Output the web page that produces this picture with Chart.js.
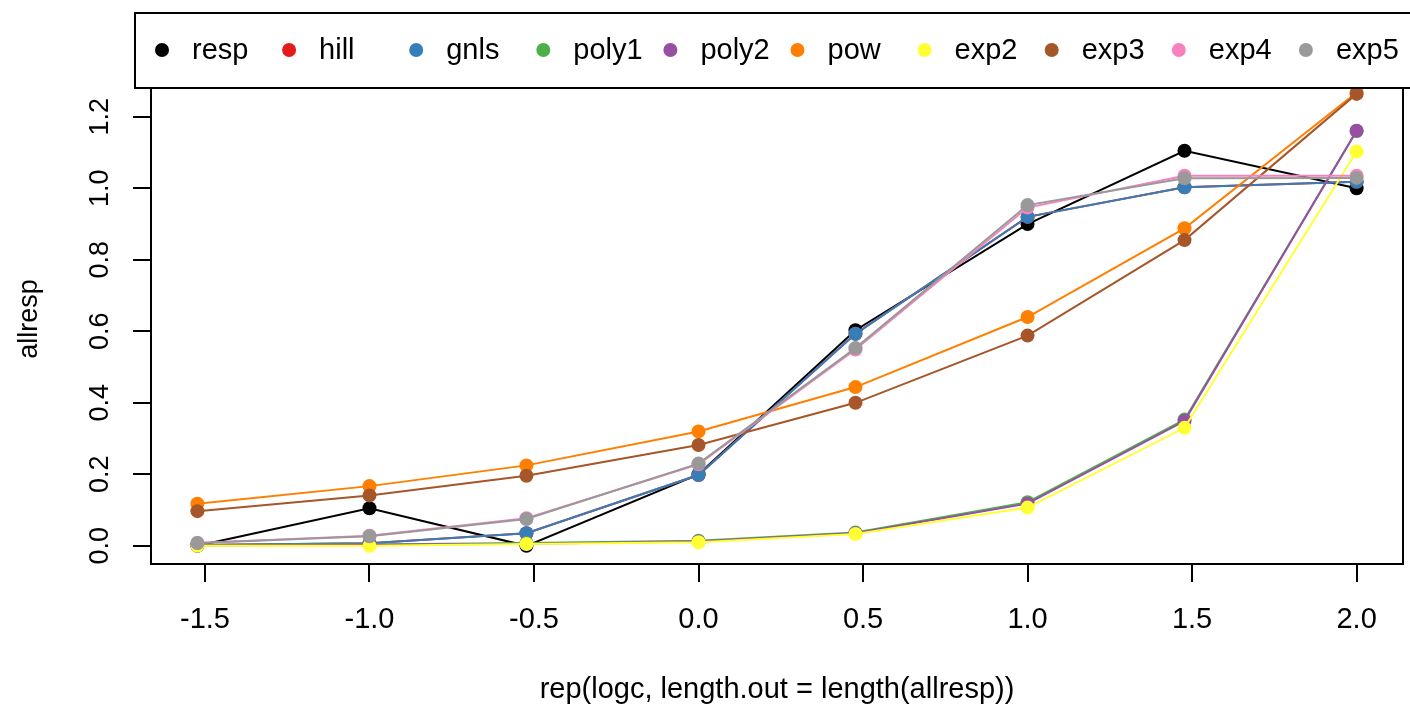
<!DOCTYPE html>
<html>
<head>
<meta charset="utf-8">
<script src="https://cdn.jsdelivr.net/npm/chart.js@4"></script>
<style>
  html, body { margin: 0; padding: 0; background: #fff; }
  #wrap { width: 1410px; height: 711px; position: relative; }
</style>
</head>
<body>
<div id="wrap"><canvas id="chart"></canvas></div>
<script>
// log10 concentrations and responses
const logc   = [-1.523, -1, -0.523, 0, 0.477, 1, 1.477, 2];
const resp   = [0, 0.105, 0, 0.2, 0.603, 0.9, 1.105, 1.0];
const gnls   = [0.002, 0.007, 0.035, 0.198, 0.593, 0.92, 1.003, 1.018];
const hill   = [0.002, 0.007, 0.035, 0.198, 0.593, 0.92, 1.003, 1.018];
const poly1  = [0.002, 0.004, 0.008, 0.014, 0.037, 0.122, 0.353, 1.16];
const poly2  = [0.001, 0.003, 0.006, 0.012, 0.035, 0.118, 0.349, 1.161];
const pow    = [0.118, 0.167, 0.225, 0.32, 0.444, 0.64, 0.888, 1.268];
const exp2   = [0, 0, 0.005, 0.01, 0.033, 0.107, 0.33, 1.103];
const exp3   = [0.097, 0.141, 0.196, 0.282, 0.4, 0.588, 0.855, 1.264];
const exp4   = [0.008, 0.028, 0.077, 0.228, 0.549, 0.946, 1.035, 1.035];
const exp5   = [0.008, 0.027, 0.075, 0.23, 0.553, 0.953, 1.028, 1.029];

const seriesNames  = ['resp', 'hill', 'gnls', 'poly1', 'poly2', 'pow', 'exp2', 'exp3', 'exp4', 'exp5'];
const seriesValues = [resp, hill, gnls, poly1, poly2, pow, exp2, exp3, exp4, exp5];
const seriesColors = ['#000000', '#E41A1C', '#377EB8', '#4DAF4A', '#984EA3',
                      '#FF7F00', '#FFFF33', '#A65628', '#F781BF', '#999999'];

const xTicks = [-1.5, -1.0, -0.5, 0.0, 0.5, 1.0, 1.5, 2.0];
const yTicks = [0.0, 0.2, 0.4, 0.6, 0.8, 1.0, 1.2];

const FONT = "'Liberation Sans', Arial, sans-serif";

// later series sit on top, like R draws them
const datasets = seriesNames.map((name, i) => ({
  label: name,
  data: logc.map((x, k) => ({ x, y: seriesValues[i][k] })),
  borderColor: seriesColors[i],
  backgroundColor: seriesColors[i],
  borderWidth: 2,
  pointRadius: 7,
  pointBorderWidth: 0,
  pointHoverRadius: 7,
  tension: 0,
  order: seriesNames.length - i
}));

// box round the plot + R style legend on top
const frame = {
  id: 'frame',
  afterDraw(chart) {
    const { ctx, chartArea: a } = chart;
    ctx.save();
    ctx.strokeStyle = '#000';
    ctx.lineWidth = 2;
    ctx.strokeRect(a.left, a.top, a.right - a.left, a.bottom - a.top);

    // legend
    ctx.fillStyle = '#fff';
    ctx.fillRect(135, 13, 1300, 75);
    ctx.strokeRect(135, 13, 1300, 75);
    ctx.font = '29px ' + FONT;
    ctx.textBaseline = 'middle';
    ctx.textAlign = 'left';
    seriesNames.forEach((name, i) => {
      const cx = 162 + i * 127.1;
      ctx.fillStyle = seriesColors[i];
      ctx.beginPath();
      ctx.arc(cx, 50, 7, 0, Math.PI * 2);
      ctx.fill();
      ctx.fillStyle = '#000';
      ctx.fillText(name, cx + 30, 51);
    });
    ctx.restore();
  }
};

new Chart(document.getElementById('chart'), {
  type: 'line',
  data: { datasets },
  plugins: [frame],
  options: {
    responsive: true,
    maintainAspectRatio: false,
    animation: false,
    layout: { padding: { top: 74, right: 7, left: 0, bottom: 0 } },
    plugins: {
      legend: { display: false },
      tooltip: { enabled: false }
    },
    scales: {
      x: {
        type: 'linear',
        min: -1.664,
        max: 2.141,
        afterBuildTicks: s => { s.ticks = xTicks.map(v => ({ value: v })); },
        afterFit: s => { s.height = 147; },
        border: { display: false },
        grid: { drawOnChartArea: false, drawTicks: true, tickLength: 18, color: '#000', lineWidth: 2 },
        ticks: {
          color: '#000',
          font: { family: FONT, size: 29, lineHeight: 1 },
          padding: 23,
          maxRotation: 0,
          callback: v => v.toFixed(1)
        },
        title: {
          display: true,
          text: 'rep(logc, length.out = length(allresp))',
          color: '#000',
          font: { family: FONT, size: 29, lineHeight: 1 },
          padding: { bottom: 7 }
        }
      },
      y: {
        type: 'linear',
        min: -0.0508,
        max: 1.3196,
        afterBuildTicks: s => { s.ticks = yTicks.map(v => ({ value: v })); },
        afterFit: s => { s.width = 151; },
        border: { display: false },
        grid: { drawOnChartArea: false, drawTicks: true, tickLength: 18, color: '#000', lineWidth: 2 },
        ticks: {
          color: '#000',
          font: { family: FONT, size: 27, lineHeight: 1 },
          padding: 14,
          minRotation: 90,
          maxRotation: 90,
          crossAlign: 'center',
          callback: v => v.toFixed(1)
        },
        title: {
          display: true,
          text: 'allresp',
          color: '#000',
          font: { family: FONT, size: 27, lineHeight: 1 },
          padding: { top: 16 }
        }
      }
    }
  }
});
</script>
</body>
</html>
